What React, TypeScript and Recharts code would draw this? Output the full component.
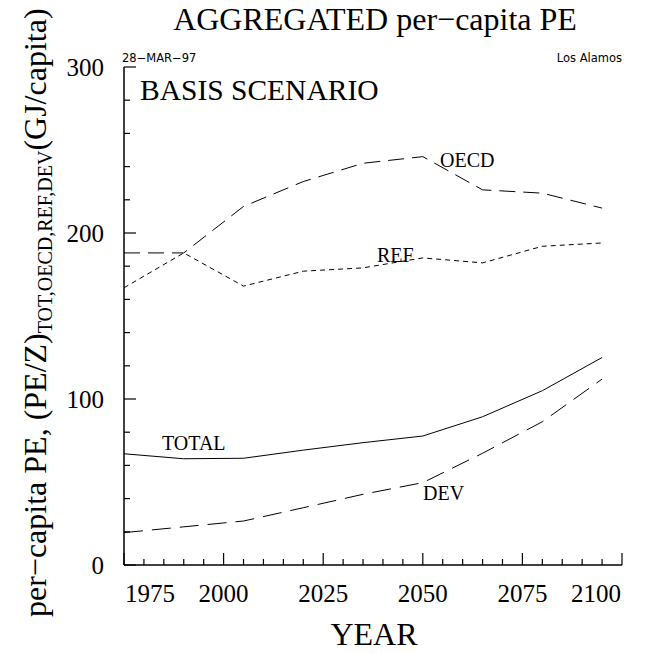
import React from 'react';
import { LineChart, Line, XAxis, YAxis } from 'recharts';

const years = [1975, 1990, 2005, 2020, 2035, 2050, 2065, 2080, 2095];
const totalPE = [67, 64, 64.3, 69.2, 73.7, 77.7, 89.3, 105, 125];
const oecdPE = [188, 188, 216, 231, 242, 246, 226, 224, 215];
const refPE = [167, 188, 168, 177, 179, 185, 182, 192, 194];
const devPE = [19.5, 23, 26.5, 34.5, 42.6, 49.6, 67.3, 86.3, 112];

const xTicks = [1975, 1980, 1985, 1990, 1995, 2000, 2005, 2010, 2015, 2020, 2025, 2030, 2035, 2040, 2045, 2050, 2055, 2060, 2065, 2070, 2075, 2080, 2085, 2090, 2095, 2100];
const xLabels = [1975, 2000, 2025, 2050, 2075, 2100];
const yTicks = [0, 20, 40, 60, 80, 100, 120, 140, 160, 180, 200, 220, 240, 260, 280, 300];
const yLabels = [0, 100, 200, 300];

const data = years.map((year, i) => ({
  year,
  total: totalPE[i],
  oecd: oecdPE[i],
  ref: refPE[i],
  dev: devPE[i],
}));

const SERIF = "'Liberation Serif', 'Times New Roman', serif";
const SANS = "'DejaVu Sans', sans-serif";

const BottomTick = (props: any) => {
  const { x, y, payload } = props;
  const v = payload.value;
  const len = v % 25 === 0 ? 12 : 6;
  let label = null;
  if (xLabels.includes(v)) {
    const anchor = v === 1975 ? 'start' : v === 2100 ? 'end' : 'middle';
    const lx = v === 1975 ? x + 1 : v === 2100 ? x - 1 : x;
    label = (
      <text x={lx} y={y + 37} textAnchor={anchor} fontFamily={SERIF} fontSize={25} fill="#000">
        {v}
      </text>
    );
  }
  return (
    <g>
      <line x1={x} y1={y} x2={x} y2={y - len} stroke="#000" strokeWidth={1.2} />
      {label}
    </g>
  );
};

const TopTick = (props: any) => {
  const { x, y, payload } = props;
  const v = payload.value;
  const len = v % 25 === 0 ? 12 : 6;
  return <line x1={x} y1={y} x2={x} y2={y + len} stroke="#000" strokeWidth={1.2} />;
};

const LeftTick = (props: any) => {
  const { x, y, payload } = props;
  const v = payload.value;
  const len = v % 100 === 0 ? 12 : 6;
  return (
    <g>
      <line x1={x} y1={y} x2={x + len} y2={y} stroke="#000" strokeWidth={1.2} />
      {yLabels.includes(v) && (
        <text x={x - 20} y={y + 9} textAnchor="end" fontFamily={SERIF} fontSize={25} fill="#000">
          {v}
        </text>
      )}
    </g>
  );
};

const RightTick = (props: any) => {
  const { x, y, payload } = props;
  const v = payload.value;
  const len = v % 100 === 0 ? 12 : 6;
  return <line x1={x} y1={y} x2={x - len} y2={y} stroke="#000" strokeWidth={1.2} />;
};

const axisLine = { stroke: '#000', strokeWidth: 1.5 };

export default function App() {
  return (
    <div style={{ position: 'relative', width: 649, height: 653, background: '#fff' }}>
      <style>{'body{margin:0;background:#fff}'}</style>
      <LineChart
        width={649}
        height={653}
        data={data}
        margin={{ top: 67, right: 27, bottom: 0, left: 0 }}
      >
        <XAxis
          dataKey="year"
          type="number"
          domain={[1975, 2100]}
          ticks={xTicks}
          interval={0}
          height={88}
          tickSize={0}
          tickMargin={0}
          axisLine={axisLine}
          tickLine={false}
          tick={<BottomTick />}
          allowDataOverflow
        />
        <XAxis
          xAxisId="top"
          orientation="top"
          dataKey="year"
          type="number"
          domain={[1975, 2100]}
          ticks={xTicks}
          interval={0}
          height={0}
          tickSize={0}
          tickMargin={0}
          axisLine={axisLine}
          tickLine={false}
          tick={<TopTick />}
          allowDataOverflow
        />
        <YAxis
          type="number"
          domain={[0, 300]}
          ticks={yTicks}
          interval={0}
          width={124}
          tickSize={0}
          tickMargin={0}
          axisLine={axisLine}
          tickLine={false}
          tick={<LeftTick />}
          allowDataOverflow
        />
        <YAxis
          yAxisId="right"
          orientation="right"
          type="number"
          domain={[0, 300]}
          ticks={yTicks}
          interval={0}
          width={0}
          tickSize={0}
          tickMargin={0}
          axisLine={axisLine}
          tickLine={false}
          tick={<RightTick />}
          allowDataOverflow
        />
        <Line type="linear" dataKey="oecd" stroke="#000" strokeWidth={1} strokeDasharray="16 8" dot={false} isAnimationActive={false} />
        <Line type="linear" dataKey="ref" stroke="#000" strokeWidth={1} strokeDasharray="5 4" dot={false} isAnimationActive={false} />
        <Line type="linear" dataKey="total" stroke="#000" strokeWidth={1} dot={false} isAnimationActive={false} />
        <Line type="linear" dataKey="dev" stroke="#000" strokeWidth={1} strokeDasharray="19 9" dot={false} isAnimationActive={false} />
      </LineChart>
      <svg
        width={649}
        height={653}
        style={{ position: 'absolute', left: 0, top: 0, pointerEvents: 'none' }}
      >
        <text x={375} y={30} textAnchor="middle" fontFamily={SERIF} fontSize={32} fill="#000">
          AGGREGATED per−capita PE
        </text>
        <text x={122} y={62} fontFamily={SANS} fontSize={11.5} fill="#000">
          28−MAR−97
        </text>
        <text x={622} y={62} textAnchor="end" fontFamily={SANS} fontSize={11.5} fill="#000">
          Los Alamos
        </text>
        <text x={140} y={100} fontFamily={SERIF} fontSize={29.5} fill="#000">
          BASIS SCENARIO
        </text>
        <text x={440} y={167} fontFamily={SERIF} fontSize={20} fill="#000">OECD</text>
        <text x={377} y={262} fontFamily={SERIF} fontSize={20} fill="#000">REF</text>
        <text x={162} y={450} fontFamily={SERIF} fontSize={20} fill="#000">TOTAL</text>
        <text x={423} y={500} fontFamily={SERIF} fontSize={20} fill="#000">DEV</text>
        <text x={374} y={645} textAnchor="middle" fontFamily={SERIF} fontSize={32} fill="#000">
          YEAR
        </text>
        <text
          transform="translate(46,617) rotate(-90)"
          fontFamily={SERIF}
          fontSize={32}
          fill="#000"
        >
          <tspan>per−capita PE, (PE/Z)</tspan>
          <tspan fontSize={20} dy={6}>TOT,OECD,REF,DEV</tspan>
          <tspan dy={-6}>(GJ/capita)</tspan>
        </text>
      </svg>
    </div>
  );
}
